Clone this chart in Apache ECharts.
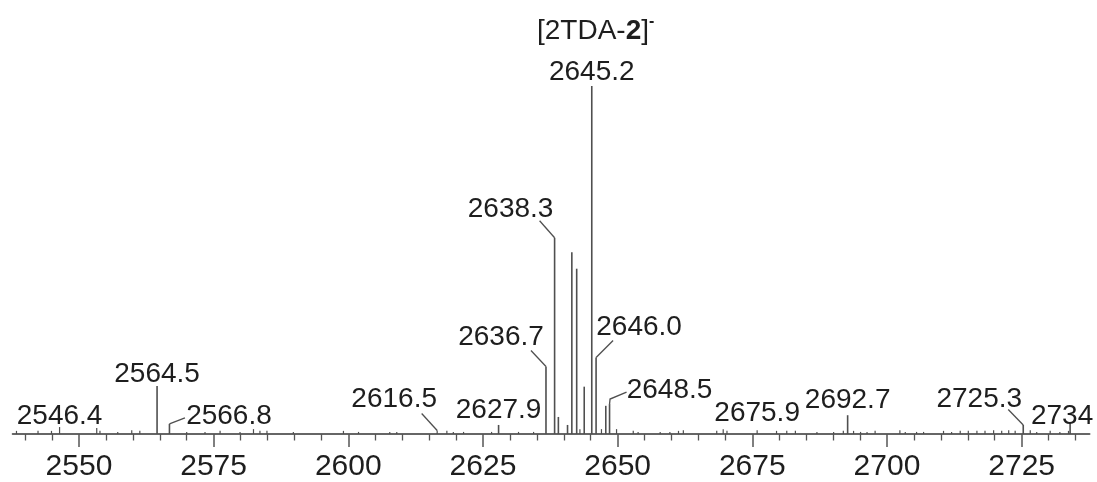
<!DOCTYPE html>
<html>
<head>
<meta charset="utf-8">
<script src="https://cdn.jsdelivr.net/npm/echarts@6/dist/echarts.min.js"></script>
<style>
  html, body { margin: 0; padding: 0; background: #fff; }
  #chart { width: 1097px; height: 482px; }
</style>
</head>
<body>
<div id="chart"></div>
<script>
// m/z positions of every stick in the spectrum
const peakMz = [
  2538.4, 2542.4, 2544.9, 2546.4, 2553.3, 2553.9, 2557.2, 2559.8, 2561.3, 2564.5,
  2566.8, 2570.0, 2573.4, 2576.2, 2579.9, 2582.4, 2583.6, 2584.9, 2589.8, 2599.1,
  2601.9, 2607.7, 2609.0, 2616.5, 2618.3, 2619.5, 2621.4, 2626.6, 2627.9, 2631.6,
  2634.4, 2636.7, 2638.3, 2639.0, 2640.7, 2641.5, 2642.4, 2643.0, 2643.8, 2645.2,
  2646.0, 2647.0, 2647.8, 2648.5, 2649.8, 2652.9, 2653.8, 2657.9, 2659.7, 2661.3,
  2662.2, 2668.4, 2669.6, 2670.3, 2675.9, 2679.5, 2681.4, 2683.0, 2687.0, 2690.1,
  2691.9, 2692.7, 2693.8, 2695.1, 2696.3, 2697.8, 2702.4, 2703.4, 2705.5, 2706.8,
  2710.5, 2712.0, 2713.6, 2715.1, 2716.7, 2718.2, 2719.8, 2721.3, 2722.6, 2723.8,
  2725.3, 2726.6, 2727.8, 2730.3, 2732.1, 2733.7, 2734
];

// relative intensity (%) of each stick, same order as peakMz
const peakIntensity = [
  0.9, 0.9, 0.9, 2.0, 1.7, 0.9, 0.6, 1.1, 0.9, 13.8,
  2.9, 0.6, 0.6, 0.9, 0.6, 1.4, 0.9, 0.9, 0.6, 0.9,
  0.6, 0.6, 0.6, 1.0, 0.9, 0.6, 0.6, 0.6, 2.6, 0.6,
  0.6, 19.4, 56.4, 4.9, 2.6, 52.2, 47.5, 1.4, 13.6, 100,
  22.0, 1.4, 8.1, 8.6, 1.4, 0.9, 0.6, 0.6, 0.6, 0.9,
  1.1, 0.9, 1.4, 0.9, 1.1, 0.9, 0.9, 0.9, 0.6, 0.6,
  0.9, 5.4, 0.9, 0.6, 0.6, 0.9, 1.1, 0.6, 0.6, 0.6,
  0.9, 0.6, 0.9, 0.9, 0.9, 0.9, 1.1, 0.9, 1.1, 0.9,
  2.6, 1.1, 0.6, 0.9, 0.6, 0.9, 3.2
];

// annotated peaks (the text is the peak's m/z)
const labelText = [
  '2546.4', '2564.5', '2566.8', '2616.5', '2627.9', '2636.7', '2638.3',
  '2645.2', '2646.0', '2648.5', '2675.9', '2692.7', '2725.3', '2734'
];

// axis ticks
const majorTicks = [2550, 2575, 2600, 2625, 2650, 2675, 2700, 2725];
const minorTicks = [
  2540, 2545, 2555, 2560, 2565, 2570, 2580, 2585, 2590, 2595, 2605, 2610,
  2615, 2620, 2630, 2635, 2640, 2645, 2655, 2660, 2665, 2670, 2680, 2685,
  2690, 2695, 2705, 2710, 2715, 2720, 2730, 2735
];

// Label placement, in pixels relative to the top of the annotated stick.
// leader: polyline points from the label down to the stick.
const labelLayout = {
  '2546.4': { dx: 0, dy: -11 },
  '2564.5': { dx: 0, dy: -12 },
  '2566.8': { dx: 59.5, dy: -8, leader: [[15.5, -6], [0, 0]] },
  '2616.5': { dx: -43, dy: -31.5, leader: [[-15.5, -17], [0, 0]] },
  '2627.9': { dx: 0, dy: -14.5 },
  '2636.7': { dx: -45, dy: -29, leader: [[-15, -16], [0, 0]] },
  '2638.3': { dx: -44, dy: -28, leader: [[-15, -17], [0, 0]] },
  '2645.2': { dx: 0, dy: -14 },
  '2646.0': { dx: 43, dy: -30, leader: [[17, -17], [0, 0]] },
  '2648.5': { dx: 60, dy: -14, leader: [[17, -12], [0.5, -5], [0, 0]] },
  '2675.9': { dx: 0, dy: -17 },
  '2692.7': { dx: 0, dy: -15 },
  '2725.3': { dx: -44, dy: -26, leader: [[-15, -15.5], [0, 0]] },
  '2734':   { dx: -8, dy: -7 }
};

const FONT = '"Liberation Sans", Arial, Helvetica, sans-serif';
const INK = '#1e1e1e';
const STICK = '#4f4f4f';

const stickData = peakMz.map((mz, i) => [mz, peakIntensity[i]]);
const labelData = labelText.map((t, i) => {
  const mz = Number(t);
  const k = peakMz.indexOf(mz);
  return [mz, peakIntensity[k], i];
});

const chart = echarts.init(document.getElementById('chart'), null, { renderer: 'canvas' });

const axisBase = {
  type: 'value',
  gridIndex: 0,
  min: 2537.7,
  max: 2737.6,
  position: 'bottom',
  splitLine: { show: false }
};

chart.setOption({
  animation: false,
  backgroundColor: '#ffffff',
  title: {
    // ion formula: [2TDA-2]⁻ with the "2" in bold and a superscript minus
    text: '{n|[2TDA-}{b|2}{n|]}{s|-}',
    left: 537,
    top: 14,
    padding: 0,
    textStyle: {
      fontWeight: 'normal',
      rich: {
        n: { fontSize: 28, fontFamily: FONT, color: INK, fontWeight: 'normal', lineHeight: 34 },
        b: { fontSize: 28, fontFamily: FONT, color: INK, fontWeight: 'bold', lineHeight: 34 },
        s: { fontSize: 16, fontFamily: FONT, color: INK, fontWeight: 'bold', lineHeight: 16, verticalAlign: 'top' }
      }
    }
  },
  grid: { left: 12.7, right: 7.5, top: 86, bottom: 47 },
  xAxis: [
    Object.assign({}, axisBase, {
      axisLine: { show: true, lineStyle: { color: '#666', width: 2 } },
      axisTick: { show: true, customValues: majorTicks, length: 13, inside: false,
                  lineStyle: { color: '#555', width: 1.5 } },
      axisLabel: { show: true, customValues: majorTicks, margin: 18,
                   fontSize: 30, fontFamily: FONT, color: INK,
                   formatter: v => String(v) }
    }),
    Object.assign({}, axisBase, {
      axisLine: { show: false },
      axisTick: { show: true, customValues: minorTicks, length: 6.5, inside: false,
                  lineStyle: { color: '#555', width: 1.3 } },
      axisLabel: { show: false }
    })
  ],
  yAxis: { type: 'value', min: 0, max: 100, show: false },
  series: [
    {
      // stick spectrum
      type: 'custom',
      xAxisIndex: 0,
      data: stickData,
      clip: false,
      renderItem: function (params, api) {
        const mz = api.value(0);
        const inten = api.value(1);
        const base = api.coord([mz, 0]);
        const top = api.coord([mz, inten]);
        return {
          type: 'line',
          shape: { x1: base[0], y1: base[1], x2: top[0], y2: top[1] },
          style: { stroke: STICK, lineWidth: inten > 2 ? 1.6 : 1.2 }
        };
      }
    },
    {
      // m/z annotations with leader lines
      type: 'custom',
      xAxisIndex: 0,
      data: labelData,
      clip: false,
      renderItem: function (params, api) {
        const mz = api.value(0);
        const inten = api.value(1);
        const text = labelText[api.value(2)];
        const top = api.coord([mz, inten]);
        const lay = labelLayout[text];
        const children = [{
          type: 'text',
          x: top[0] + lay.dx,
          y: top[1] + lay.dy,
          style: {
            text: text,
            fill: INK,
            fontSize: 28,
            fontFamily: FONT,
            align: 'center',
            verticalAlign: 'middle'
          }
        }];
        if (lay.leader) {
          children.push({
            type: 'polyline',
            shape: { points: lay.leader.map(p => [top[0] + p[0], top[1] + p[1]]) },
            style: { stroke: STICK, lineWidth: 1.3, fill: 'none' }
          });
        }
        return { type: 'group', children: children };
      }
    }
  ]
});
</script>
</body>
</html>
